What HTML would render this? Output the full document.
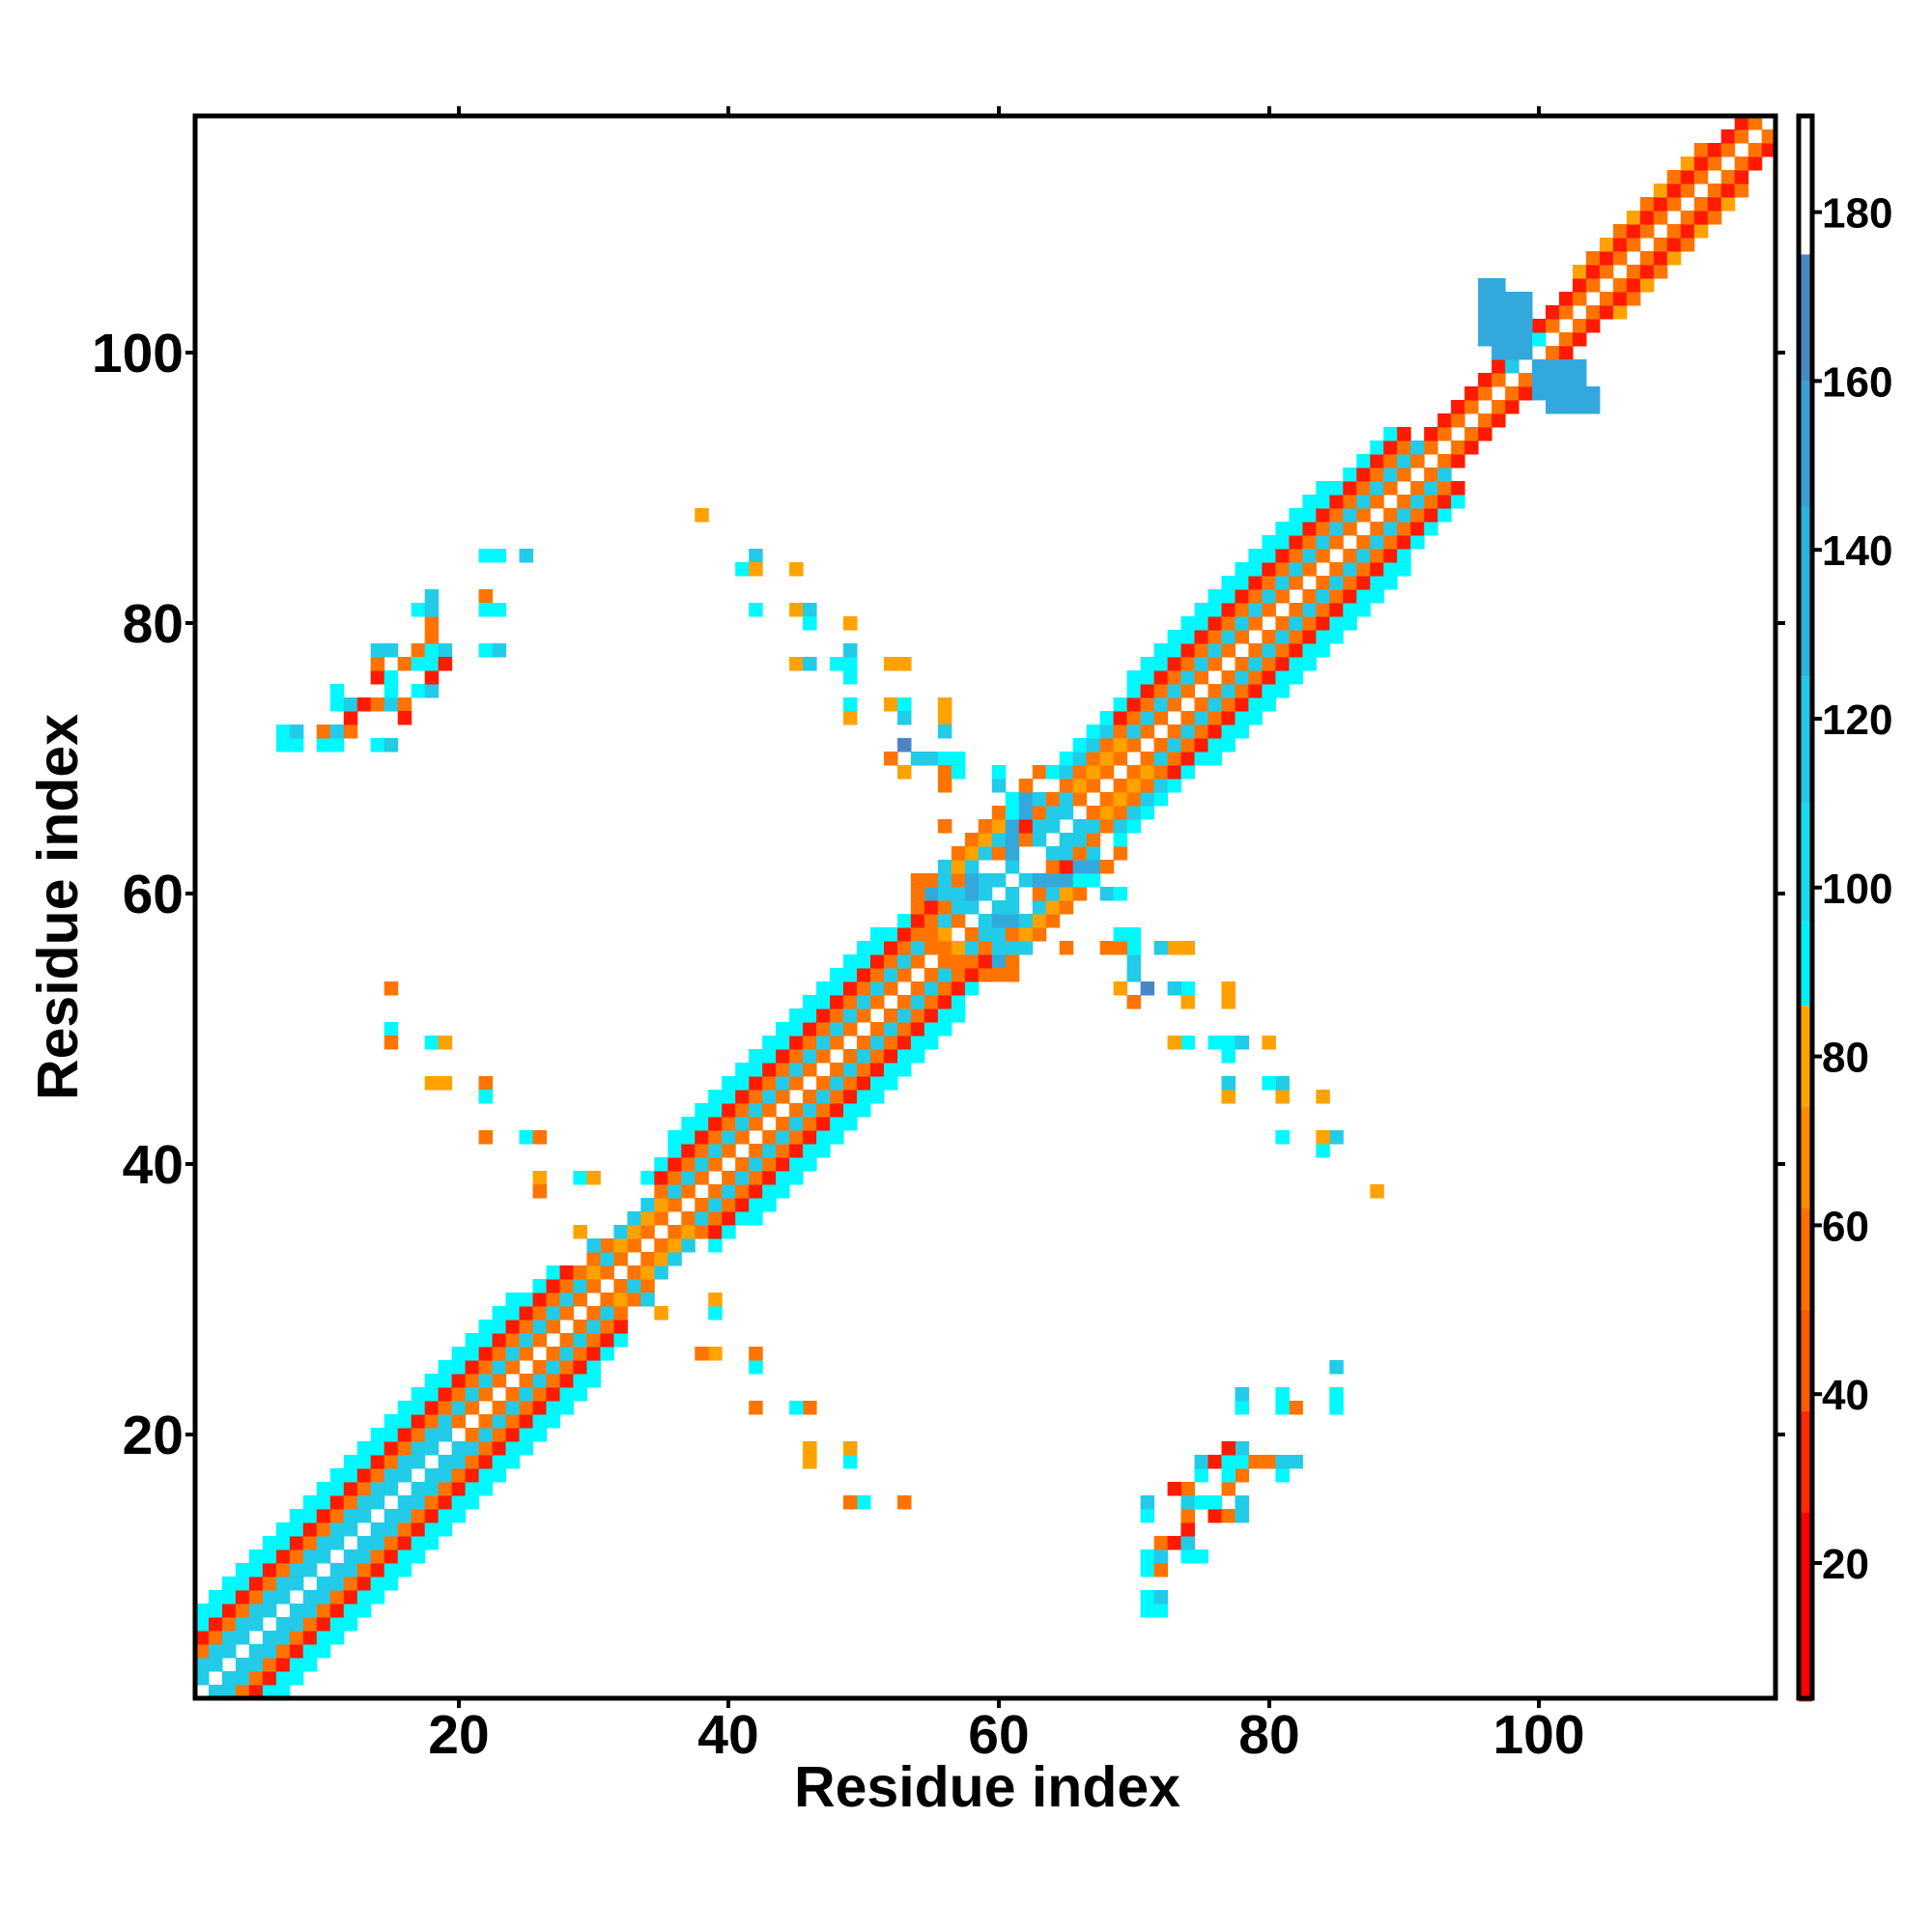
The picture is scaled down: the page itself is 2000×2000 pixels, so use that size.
<!DOCTYPE html>
<html><head><meta charset="utf-8"><style>
html,body{margin:0;padding:0;background:#fff}
svg{display:block}
text{font-family:"Liberation Sans",sans-serif;font-weight:bold;fill:#000}
</style></head><body>
<svg id="s" width="2000" height="2000" viewBox="0 0 2000 2000" xmlns="http://www.w3.org/2000/svg">
<rect width="2000" height="2000" fill="#fff"/>
<g id="cells"></g>
<g id="cbar"></g>
<rect x="202" y="120" width="1636" height="1638" fill="none" stroke="#000" stroke-width="5"/>
<rect x="1862" y="120" width="14" height="1638" fill="none" stroke="#000" stroke-width="5"/>
<g stroke="#000" stroke-width="4">
<line x1="475" y1="1758" x2="475" y2="1768"/><line x1="754" y1="1758" x2="754" y2="1768"/><line x1="1034" y1="1758" x2="1034" y2="1768"/><line x1="1314" y1="1758" x2="1314" y2="1768"/><line x1="1593" y1="1758" x2="1593" y2="1768"/>
<line x1="475" y1="120" x2="475" y2="110"/><line x1="754" y1="120" x2="754" y2="110"/><line x1="1034" y1="120" x2="1034" y2="110"/><line x1="1314" y1="120" x2="1314" y2="110"/><line x1="1593" y1="120" x2="1593" y2="110"/>
<line x1="202" y1="1485" x2="192" y2="1485"/><line x1="202" y1="1205" x2="192" y2="1205"/><line x1="202" y1="925" x2="192" y2="925"/><line x1="202" y1="645" x2="192" y2="645"/><line x1="202" y1="365" x2="192" y2="365"/>
<line x1="1838" y1="1485" x2="1848" y2="1485"/><line x1="1838" y1="1205" x2="1848" y2="1205"/><line x1="1838" y1="925" x2="1848" y2="925"/><line x1="1838" y1="645" x2="1848" y2="645"/><line x1="1838" y1="365" x2="1848" y2="365"/>
</g>
<g font-size="57" text-anchor="middle">
<text x="475" y="1815">20</text><text x="754" y="1815">40</text><text x="1034" y="1815">60</text><text x="1314" y="1815">80</text><text x="1593" y="1815">100</text>
</g>
<g font-size="57" text-anchor="end">
<text x="190" y="1505">20</text><text x="190" y="1225">40</text><text x="190" y="945">60</text><text x="190" y="665">80</text><text x="190" y="385">100</text>
</g>
<text x="1022" y="1870" font-size="59" text-anchor="middle">Residue index</text>
<text transform="translate(80,939) rotate(-90)" font-size="59" text-anchor="middle">Residue index</text>
<g id="cbt" font-size="44"></g>
</svg>
<script>
var C={w:"#ffffff",r:"#ff1a00",o:"#ff7400",y:"#ffa200",c:"#00f8ff",l:"#22cbe8",b:"#33a8dc",k:"#4a86c6"};
var M={};
function set(i,j,c){M[i+","+j]=c;}
function sym(i,j,c){set(i,j,c);set(j,i,c);}
var patA=["w","l","l","o","r","c","c"];
var patB=["w","o","l","o","r","c"];
for(var i=1;i<=117;i++){
 for(var d=0;d<=7;d++){
  var j=i+d; if(j>117)continue;
  var m=(i+j)/2, c=null;
  if(m<=20){ if(d<=6)c=patA[d]; }
  else if(m<=30){ if(d<=5)c=patB[d]; if(d==6&&m<28)c="c";}
  else if(m<=36){ var p=["w","o","y","o"]; if(d<=3)c=p[d]; if(m>33&&d==3)c="l";}
  else if(m<=57.5){ if(d<=5)c=patB[d]; if(d==6&&m>38&&m<55)c="c";}
  else if(m<=66){ var q=["w","l","l","o","l","y","o"]; if(d<=6)c=q[(d+Math.floor(m))%7===0?0:d]; if(d==0)c="w";}
  else if(m<=70){ var p2=["w","o","y","o","l","c"]; if(d<=5)c=p2[d];}
  else if(m<=92){ if(d<=5)c=patB[d]; if(d==6&&m>72&&m<88)c="c";}
  else { var p3=["w","o","r","o"]; if(d<=2)c=p3[d]; if(d==3&&m>104&&m<114)c=(i%2?"y":"o");}
  if(c)sym(i,j,c);
 }
}
for(var x=96;x<=99;x++)for(var y=100;y<=105;y++){ if(!(x==96&&y==100)&&!(x==99&&y==105)&&!(x==98&&y==105))set(x,y,"b");}
for(var x=100;x<=104;x++)for(var y=96;y<=99;y++){ if(!(x==104&&y==99)&&!(x==100&&y==96)&&!(x==104&&y==98))set(x,y,"b");}
set(98,99,"l");set(99,99,"w");set(100,100,"w");set(100,101,"c");
[[56,55,"o"],[57,55,"o"],[57,56,"y"],[58,55,"o"],[56,56,"o"],[55,58,"o"],[54,61,"o"],[55,61,"o"],[56,61,"o"],[57,61,"o"],[54,60,"o"],[54,59,"o"],[55,60,"b"],[56,60,"l"],[57,60,"l"],[58,60,"l"],[59,60,"l"],[60,58,"b"],[61,58,"b"],[62,61,"l"],[63,61,"b"],[64,61,"b"],[65,61,"b"],[66,61,"b"],[67,61,"b"],[68,60,"l"],[69,60,"c"],[61,66,"c"],[62,66,"b"],[62,67,"b"],[61,67,"c"],[64,62,"o"],[65,62,"r"],[60,56,"l"],[61,56,"l"],[62,56,"l"]].forEach(function(a){sym(a[0],a[1],a[2]);});
var S=[[7,71,"c"],[8,71,"c"],[7,72,"c"],[8,72,"l"],[10,71,"c"],[11,71,"c"],[10,72,"o"],[11,72,"l"],[12,72,"o"],[14,71,"c"],[15,71,"l"],[12,73,"r"],[11,74,"c"],[12,74,"l"],[13,74,"r"],[14,74,"o"],[15,74,"l"],[16,74,"o"],[11,75,"c"],[15,75,"c"],[16,73,"r"],[14,76,"r"],[15,76,"c"],[17,75,"c"],[18,75,"l"],[18,76,"r"],[14,77,"o"],[16,77,"o"],[14,78,"l"],[15,78,"l"],[17,78,"o"],[18,78,"c"],[19,78,"l"],[17,77,"c"],[18,77,"c"],[19,77,"r"],[18,79,"o"],[18,80,"o"],[17,81,"c"],[18,81,"l"],[18,82,"l"],[22,82,"o"],[22,81,"c"],[23,81,"c"],[22,78,"c"],[23,78,"l"],[22,85,"c"],[23,85,"c"],[25,85,"l"],
[38,88,"y"],[42,85,"l"],[41,84,"c"],[42,84,"y"],[45,84,"y"],[42,81,"c"],[45,81,"y"],[46,81,"l"],[46,80,"c"],[49,80,"y"],[45,77,"y"],[46,77,"l"],[48,77,"c"],[49,77,"c"],[49,78,"l"],[49,76,"c"],[52,77,"y"],[53,77,"y"],[49,74,"c"],[52,74,"y"],[53,74,"c"],[56,74,"y"],[49,73,"y"],[53,73,"l"],[56,73,"y"],[56,72,"l"],[53,71,"k"],[54,70,"l"],[52,70,"o"],[55,70,"l"],[56,70,"c"],[57,70,"c"],[53,69,"y"],[56,69,"o"],[57,69,"c"],[56,68,"o"],[56,65,"o"],
[15,53,"o"],[15,50,"c"],[15,49,"o"],[18,49,"c"],[19,49,"y"],[18,46,"y"],[19,46,"y"],[22,46,"o"],[22,45,"c"],[22,42,"o"],[25,42,"c"],[26,42,"o"],[26,39,"y"],[26,38,"o"],[29,39,"c"],[30,39,"y"],[29,35,"y"],[30,34,"l"],[31,33,"l"]];
S.forEach(function(a){sym(a[0],a[1],a[2]);});
var g=document.getElementById("cells"),h="";
for(var k in M){var p=k.split(","),i=+p[0],j=+p[1];if(M[k]=="w")continue;
 var x=202+(i-1)*13.98,y=1758-j*14;
 h+='<rect x="'+x.toFixed(1)+'" y="'+y.toFixed(1)+'" width="14.5" height="14.5" fill="'+C[M[k]]+'"/>';}
g.innerHTML=h;
function vy(v){return 1618-(v-20)*8.74;}
var st=[[3.6,26,"#ff0000"],[26,38,"#ff2a00"],[38,50,"#ff5a00"],[50,62,"#ff7000"],[62,74,"#ff8a00"],[74,86,"#ffa400"],[86,96,"#00f0ff"],[96,110,"#18dcee"],[110,125,"#22c8e6"],[125,145,"#2ab4dc"],[145,160,"#3aa0d4"],[160,175,"#4a88c4"],[175,191.6,"#ffffff"]];
var cb="";st.forEach(function(s){cb+='<rect x="1862" y="'+vy(s[1]).toFixed(1)+'" width="14" height="'+(vy(s[0])-vy(s[1])).toFixed(1)+'" fill="'+s[2]+'"/>';});
document.getElementById("cbar").innerHTML=cb;
var t="";for(var v=20;v<=180;v+=20){var y=vy(v);t+='<line x1="1876" y1="'+y+'" x2="1886" y2="'+y+'" stroke="#000" stroke-width="4"/><text x="1886" y="'+(y+16)+'">'+v+'</text>';}
document.getElementById("cbt").innerHTML=t;
</script>
</body></html>
